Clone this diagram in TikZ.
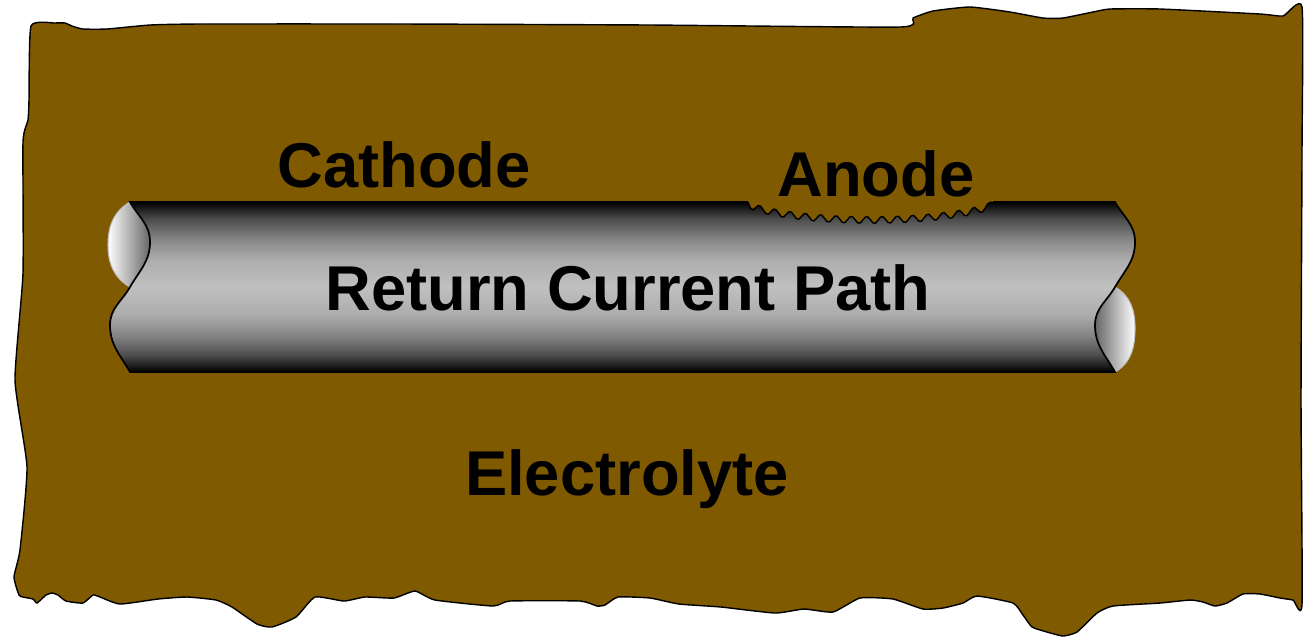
\documentclass[tikz,border=0pt]{standalone}
\usepackage{fontspec}
\setmainfont{Liberation Sans}
\usepackage{tikz}
\definecolor{soil}{RGB}{127,90,0}
\definecolor{steel}{RGB}{192,192,192}
% 管道的竖直渐变
\pgfdeclareverticalshading{pipe}{100bp}{color(0bp)=(black); color(25bp)=(black);
    color(30bp)=(black!60!steel); color(36bp)=(black!30!steel); color(42bp)=(black!10!steel);
    color(50bp)=(steel);
    color(58bp)=(black!10!steel); color(64bp)=(black!30!steel); color(70bp)=(black!60!steel);
    color(75bp)=(black); color(100bp)=(black)}
\tikzset{
    lbl/.style={font=\bfseries\fontsize{18}{21}\selectfont, inner sep=0pt, anchor=base}, % 文字标签
    outline/.style={draw=black, line width=0.4pt}, % 轮廓线
    endface/.style={line width=0.3pt, draw=black!25} % 管道端面
}

\begin{document}
\begin{tikzpicture}[x=0.01cm, y=-0.01cm]
    \useasboundingbox (0,0) rectangle (1304,638);

    % 土壤
    \filldraw[fill=soil, outline] plot[smooth cycle, tension=0.3] coordinates {
        (31,26) (55,23) (65,23) (72,26) (83,29) (107,29) (150,25) (200,24) (400,24) (650,25)
        (900,27) (913,18) (933,11) (970,7) (1010,12) (1043,18) (1063,18) (1093,12) (1110,9)
        (1160,9) (1260,14) (1283,16) (1302,7)
        (1302,150) (1301,400) (1302,604)
        (1293,600) (1280,598) (1260,594) (1243,594) (1227,603) (1215,606) (1203,602) (1190,600)
        (1160,603) (1113,606) (1097,613) (1077,632) (1063,636) (1047,632) (1032,627) (1023,615)
        (1013,603) (977,596) (963,603) (943,608) (923,609) (893,599) (860,598)
        (833,612) (804,609) (775,613) (721,607) (679,604) (650,598)
        (618,597) (605,605) (597,606) (580,601) (510,601) (493,606) (435,600) (415,591)
        (394,598) (365,597) (344,601) (315,597) (296,617) (272,627) (257,624) (232,607)
        (216,600) (187,597) (158,599) (120,604) (100,597) (93,595) (83,603) (66,601)
        (58,595) (52,593) (46,595) (37,603) (33,599) (23,597) (19,595)
        (14,577) (20,550) (27,467) (15,380) (23,273) (23,142) (28,120) (29,100)};

    % 管道端面
    \shade[left color=white, middle color=white, right color=black!60, endface]
        (130,287) to[out=150, in=-90] (108,245) to[out=90, in=-150] (130,202)
        to[out=-60, in=90] (150,242) to[out=-90, in=60] cycle;
    \shade[left color=black!60, middle color=white, right color=white, endface]
        (1115,287) to[out=-120, in=90] (1095,325) to[out=-90, in=120] (1115,372)
        to[out=30, in=-90] (1135,328) to[out=90, in=-30] cycle;

    % 管道
    \shade[shading=pipe, outline, line width=0.5pt]
        (130,202) -- (1115,202)
        to[out=-60, in=90] (1135,242) to[out=-90, in=60] (1115,287)
        to[out=-120, in=90] (1095,325) to[out=-90, in=120] (1115,372)
        -- (130,372)
        to[out=120, in=-90] (110,325) to[out=90, in=-120] (130,287)
        to[out=60, in=-90] (150,242) to[out=90, in=-60] cycle;

    % 阳极腐蚀缺口
    \fill[soil] (748,198) -- plot[domain=0:1, samples=97]
        ({748+245*\x}, {202+18*sqrt(abs(sin(180*\x)))+3.5*sin(5760*\x)}) -- (993,198) -- cycle;
    \draw[outline] plot[domain=0:1, samples=97]
        ({748+245*\x}, {202+18*sqrt(abs(sin(180*\x)))+3.5*sin(5760*\x)});

    \node[lbl] (cathode) at (404,187) {Cathode};
    \node[lbl] (anode) at (876,196) {Anode};
    \node[lbl] (path) at (628,310) {Return Current Path};
    \node[lbl] (electrolyte) at (627,495) {Electrolyte};
\end{tikzpicture}
\end{document}
